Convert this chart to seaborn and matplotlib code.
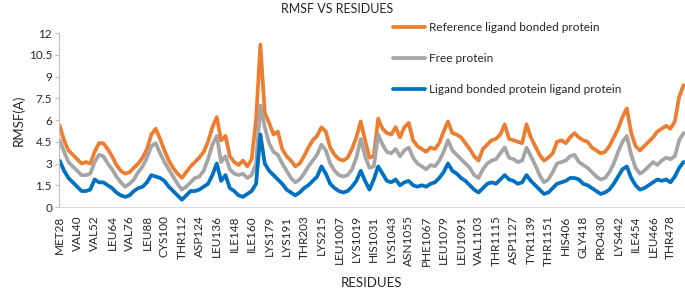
import pandas as pd
import matplotlib
matplotlib.use("Agg")
import matplotlib.pyplot as plt
import seaborn as sns

# Residue labels shown on the x axis (one every 12 residues)
TICK_LABELS = ['MET28', 'VAL40', 'VAL52', 'LEU64', 'VAL76', 'LEU88', 'CYS100', 'THR112',
               'ASP124', 'LEU136', 'ILE148', 'ILE160', 'LYS179', 'LYS191', 'THR203', 'LYS215',
               'LEU1007', 'LYS1019', 'HIS1031', 'LYS1043', 'ASN1055', 'PHE1067', 'LEU1079',
               'LEU1091', 'VAL1103', 'THR1115', 'ASP1127', 'TYR1139', 'THR1151', 'HIS406',
               'GLY418', 'PRO430', 'LYS442', 'ILE454', 'LEU466', 'THR478']

# RMSF values, one every 3 residues
reference = [5.6, 4.6, 3.9, 3.6, 3.3, 3.0, 3.1, 3.0, 3.8, 4.4, 4.4, 4.0, 3.5, 2.9, 2.5, 2.3,
             2.4, 2.7, 3.0, 3.4, 4.0, 5.0, 5.4, 4.7, 3.9, 3.2, 2.7, 2.3, 2.0, 2.4, 2.8, 3.1,
             3.4, 3.8, 4.5, 5.5, 6.2, 4.6, 4.9, 3.5, 3.1, 2.9, 3.2, 2.8, 3.3, 6.0, 11.2, 6.5,
             5.8, 5.0, 5.2, 4.0, 3.5, 3.2, 2.8, 3.0, 3.5, 4.1, 4.6, 4.9, 5.5, 5.2, 4.1, 3.6,
             3.3, 3.2, 3.4, 4.0, 4.8, 5.9, 4.6, 3.4, 3.5, 6.1, 5.4, 5.1, 5.0, 5.5, 4.8, 5.5,
             5.8, 4.6, 4.2, 4.0, 3.8, 4.1, 4.0, 4.4, 5.2, 5.9, 5.1, 5.0, 4.8, 4.4, 4.0, 3.5,
             3.2, 4.0, 4.3, 4.6, 4.7, 5.0, 5.7, 4.7, 4.6, 4.5, 4.4, 5.7, 4.8, 4.2, 3.6, 3.2,
             3.4, 3.7, 4.5, 4.6, 4.4, 4.8, 5.1, 4.8, 4.6, 4.5, 4.1, 3.9, 3.7, 3.8, 4.2, 4.8,
             5.4, 6.2, 6.8, 5.1, 4.2, 3.9, 4.2, 4.5, 4.8, 5.2, 5.4, 5.6, 5.4, 5.9, 7.6, 8.4]

free = [4.6, 3.8, 3.1, 2.8, 2.5, 2.2, 2.2, 2.3, 3.1, 3.6, 3.5, 3.0, 2.6, 2.1, 1.7, 1.4,
        1.6, 1.9, 2.4, 2.8, 3.4, 4.2, 4.4, 3.7, 3.1, 2.6, 2.1, 1.6, 1.2, 1.4, 1.7, 2.0,
        2.1, 2.5, 3.3, 4.3, 4.9, 3.1, 3.5, 2.6, 2.3, 2.2, 2.3, 2.0, 2.2, 3.0, 7.0, 5.5,
        4.4, 3.8, 3.6, 3.0, 2.5, 2.0, 1.7, 1.9, 2.3, 2.8, 3.2, 3.6, 4.3, 3.9, 3.0, 2.5,
        2.2, 2.1, 2.2, 2.6, 3.4, 4.7, 3.5, 2.7, 2.8, 5.0, 4.3, 3.8, 3.7, 4.0, 3.5, 3.9,
        4.1, 3.4, 3.0, 2.8, 2.6, 2.9, 2.8, 3.2, 3.8, 4.6, 3.9, 3.6, 3.3, 3.0, 2.7, 2.2,
        2.0, 2.6, 3.0, 3.2, 3.3, 3.7, 4.1, 3.4, 3.3, 3.1, 3.2, 4.1, 3.5, 2.9, 2.2, 1.7,
        1.9, 2.4, 3.0, 3.1, 3.2, 3.5, 3.6, 3.1, 2.9, 2.7, 2.4, 2.1, 1.9, 2.0, 2.4, 3.0,
        3.8, 4.5, 4.9, 3.6, 2.7, 2.3, 2.5, 2.8, 3.1, 2.9, 3.2, 3.4, 3.3, 3.5, 4.6, 5.1]

bonded = [3.2, 2.5, 2.0, 1.7, 1.4, 1.1, 1.1, 1.2, 1.9, 1.7, 1.7, 1.5, 1.3, 1.0, 0.8, 0.7,
          0.8, 1.1, 1.3, 1.4, 1.7, 2.2, 2.1, 2.0, 1.8, 1.4, 1.1, 0.8, 0.5, 0.8, 1.1, 1.1,
          1.2, 1.4, 1.6, 2.2, 3.0, 1.8, 2.2, 1.3, 1.1, 0.8, 0.7, 0.9, 1.1, 1.6, 5.0, 3.0,
          2.5, 2.2, 1.9, 1.6, 1.2, 1.0, 0.8, 1.0, 1.3, 1.5, 1.8, 2.1, 2.8, 2.3, 1.6, 1.3,
          1.1, 1.0, 1.1, 1.4, 1.8, 2.5, 1.8, 1.2, 1.9, 2.8, 2.3, 1.8, 1.7, 1.9, 1.5, 1.7,
          1.8, 1.5, 1.4, 1.5, 1.4, 1.6, 1.7, 2.0, 2.4, 3.0, 2.5, 2.3, 2.0, 1.8, 1.5, 1.2,
          1.0, 1.3, 1.6, 1.7, 1.6, 1.9, 2.2, 1.9, 1.8, 1.6, 1.7, 2.2, 1.8, 1.5, 1.2, 0.9,
          1.0, 1.3, 1.6, 1.7, 1.8, 2.0, 2.0, 1.9, 1.6, 1.5, 1.3, 1.1, 0.9, 1.0, 1.2, 1.6,
          2.1, 2.6, 2.8, 2.0, 1.5, 1.2, 1.3, 1.5, 1.7, 1.9, 1.8, 1.9, 1.7, 2.1, 2.7, 3.1]

SERIES = ['Reference ligand bonded protein', 'Free protein',
          'Ligand bonded protein ligand protein']
COLORS = ['#ED7D31', '#A5A5A5', '#0070C0']
STEP = 3  # residues between sampled points


def main():
    frames = []
    for name, vals in zip(SERIES, [reference, free, bonded]):
        frames.append(pd.DataFrame({'pos': [i * STEP for i in range(len(vals))],
                                    'rmsf': vals, 'series': name}))
    df = pd.concat(frames, ignore_index=True)

    sns.set_style('white')
    plt.rcParams['font.family'] = ['Lato', 'DejaVu Sans']

    fig = plt.figure(figsize=(6.85, 2.93), dpi=100)
    ax = fig.add_axes([59 / 685, 86 / 293, 626 / 685, 174 / 293])

    sns.lineplot(data=df, x='pos', y='rmsf', hue='series', hue_order=SERIES,
                 palette=COLORS, linewidth=2.7, ax=ax)

    ax.set_xlim(-0.5, 430)
    ax.set_ylim(0, 12)
    ax.set_yticks([0, 1.5, 3, 4.5, 6, 7.5, 9, 10.5, 12])
    ax.set_yticklabels(['0', '1.5', '3', '4.5', '6', '7.5', '9', '10.5', '12'], fontsize=8.5)
    ax.set_xticks([12 * k for k in range(len(TICK_LABELS))])
    ax.set_xticklabels(TICK_LABELS, rotation=90, fontsize=8.5)
    ax.tick_params(axis='x', length=0, pad=6)
    ax.tick_params(axis='y', length=3, width=0.8, color='#BFBFBF', left=True, pad=2)

    for side in ['top', 'right']:
        ax.spines[side].set_visible(False)
    ax.spines['left'].set_color('#BFBFBF')
    ax.spines['bottom'].set_color('#D9D9D9')

    ax.set_xlabel('RESIDUES', fontsize=9.5, labelpad=8)
    ax.set_ylabel('RMSF(A)', fontsize=9.5, labelpad=3)
    fig.text(337 / 685, 1 - 9 / 293, 'RMSF VS RESIDUES', ha='center', va='center', fontsize=9)

    handles, labels = ax.get_legend_handles_labels()
    ax.legend(handles, labels, loc='upper left', bbox_to_anchor=(388 / 685, 1 - 17 / 293),
              bbox_transform=fig.transFigure, frameon=False, fontsize=8.5,
              handlelength=2.7, labelspacing=1.7, handletextpad=0.35, borderaxespad=0)

    fig.savefig('out.png', dpi=100)


if __name__ == "__main__":
    main()
